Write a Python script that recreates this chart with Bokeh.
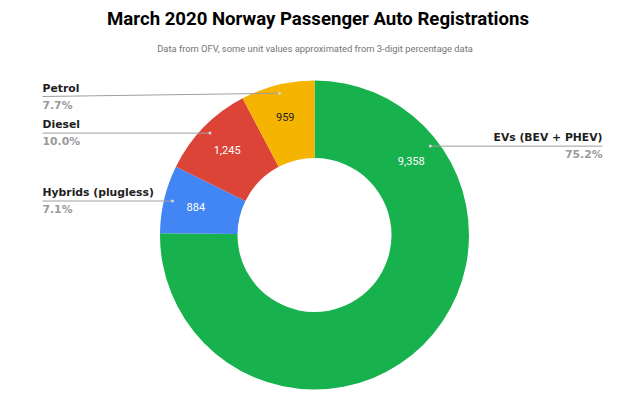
import math
from bokeh.plotting import figure
from bokeh.models import Range1d, ColumnDataSource
from bokeh.core.properties import value
from bokeh.embed import file_html
from bokeh.resources import INLINE

# ---- data ----
categories = ["EVs (BEV + PHEV)", "Hybrids (plugless)", "Diesel", "Petrol"]
units = [9358, 884, 1245, 959]
colors = ["#17B14D", "#4285F4", "#DB4437", "#F4B400"]
value_text_colors = ["#FFFFFF", "#FFFFFF", "#FFFFFF", "#212121"]

title = "March 2020 Norway Passenger Auto Registrations"
subtitle = "Data from OFV, some unit values approximated from 3-digit percentage data"

# ---- layout constants ----
W, H = 640, 395
CX, CY = 314.0, 234.5          # donut centre (page pixels, y downward)
R_IN, R_OUT = 77.0, 154.5
R_VALUE = 122.0                 # radius of in-slice value labels
R_DOT = 146.0                   # radius of leader-line anchor dots
EV_LABEL_ANGLE = 52.5           # degrees clockwise from top for the large slice label
LEFT_X, RIGHT_X = 42.0, 602.0
MIN_LINE_Y = 96.0
LBL_FONT = value("DejaVu Sans")

def P(x, y):
    """page pixel -> data coords (y up)"""
    return x, -y

total = sum(units)
fracs = [u / total for u in units]
pcts = ["%.1f%%" % (100 * f) for f in fracs]

p = figure(width=W, height=H, x_range=Range1d(0, W), y_range=Range1d(-H, 0),
           output_backend="svg", toolbar_location=None, min_border=0,
           x_axis_location=None, y_axis_location=None)
p.grid.visible = False
p.outline_line_color = None
p.background_fill_color = "white"
p.border_fill_color = "white"

# wedges: start at 12 o'clock, clockwise
starts, ends, mids = [], [], []
cum = 0.0
for f in fracs:
    a0 = cum * 360.0
    a1 = (cum + f) * 360.0
    mids.append((a0 + a1) / 2)
    starts.append(math.pi / 2 - math.radians(a0))
    ends.append(math.pi / 2 - math.radians(a1))
    cum += f

cx, cy = P(CX, CY)
src = ColumnDataSource(dict(x=[cx] * len(units), y=[cy] * len(units),
                            start=starts, end=ends, color=colors))
p.annular_wedge(x="x", y="y", inner_radius=R_IN, outer_radius=R_OUT,
                start_angle="start", end_angle="end", direction="clock",
                fill_color="color", line_color=None, source=src)

label_angles = list(mids)
label_angles[0] = EV_LABEL_ANGLE

def polar(r, deg):
    return CX + r * math.sin(math.radians(deg)), CY - r * math.cos(math.radians(deg))

# value labels in slices
vx, vy = [], []
for a in label_angles:
    x, y = polar(R_VALUE, a)
    vx.append(x); vy.append(-y)
p.text(x=vx, y=vy, text=["{:,}".format(u) for u in units], text_color=value_text_colors,
       text_font=value("Roboto"), text_font_size="11px", text_align="center",
       text_baseline="middle")

# leader lines + outside labels
for i, cat in enumerate(categories):
    dx, dy = polar(R_DOT, label_angles[i])
    right = dx > CX
    lx = RIGHT_X if right else LEFT_X
    ly = max(dy, MIN_LINE_Y)
    p.line(x=[lx, dx], y=[-ly, -dy], line_color="#9E9E9E", line_width=1)
    p.scatter(x=[dx], y=[-dy], size=3, fill_color="#D8D8D8", line_color=None)
    align = "right" if right else "left"
    p.text(x=[lx], y=[-(ly - 8.5)], text=[cat], text_font=LBL_FONT, text_font_style="bold",
           text_font_size="10.8px", text_color="#1E1E1E", text_align=align,
           text_baseline="middle")
    p.text(x=[lx], y=[-(ly + 8.5)], text=[pcts[i]], text_font=LBL_FONT, text_font_style="bold",
           text_font_size="10.8px", text_color="#9A9A9A", text_align=align,
           text_baseline="middle")

# title + subtitle
p.text(x=[317.5], y=[-18.5], text=[title], text_font=value("Roboto"), text_font_style="bold",
       text_font_size="18.6px", text_color="#000000", text_align="center", text_baseline="middle")
p.text(x=[314.5], y=[-48], text=[subtitle], text_font=value("Roboto"),
       text_font_size="9.4px", text_color="#757575", text_align="center", text_baseline="middle")

open("out.html", "w").write(file_html(p, INLINE))
